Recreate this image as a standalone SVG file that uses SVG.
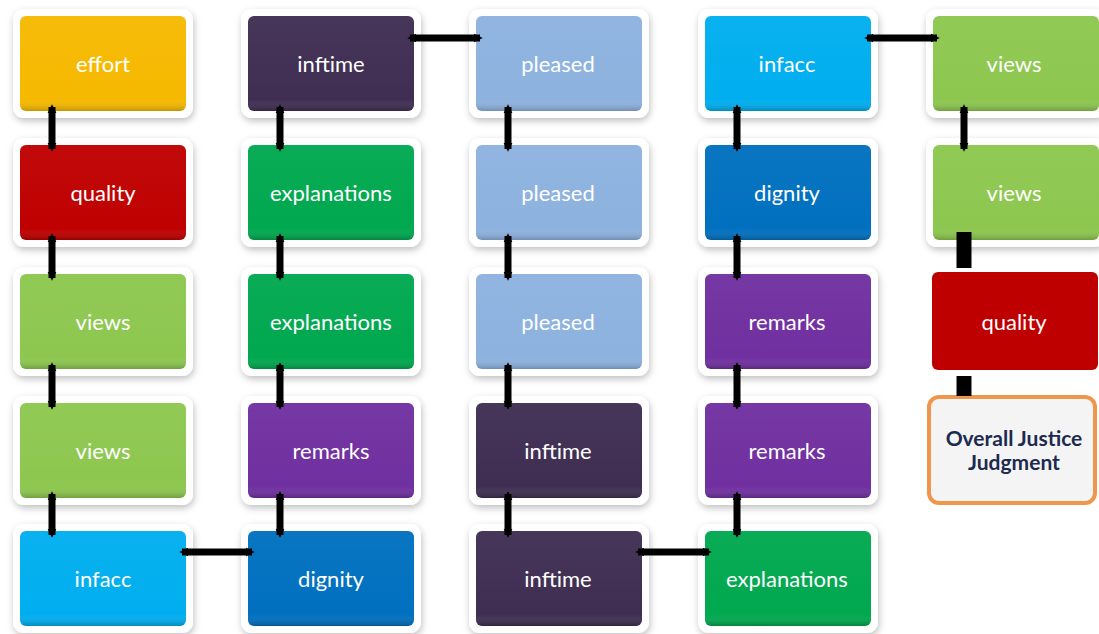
<svg xmlns="http://www.w3.org/2000/svg" width="1099" height="634" viewBox="0 0 1099 634">
  <defs>
    <filter id="sh" x="-20%" y="-20%" width="140%" height="150%">
      <feDropShadow dx="1" dy="3" stdDeviation="3.5" flood-color="#000" flood-opacity="0.25"/>
    </filter>
    <linearGradient id="bev" x1="0" y1="0" x2="0" y2="1">
      <stop offset="0" stop-color="#fff" stop-opacity="0.04"/>
      <stop offset="0.88" stop-color="#fff" stop-opacity="0"/>
      <stop offset="1" stop-color="#000" stop-opacity="0.2"/>
    </linearGradient>
    <marker id="ah" viewBox="0 0 10 10" refX="7" refY="5" markerWidth="1.3" markerHeight="1.4" orient="auto-start-reverse">
      <path d="M0,0 L10,5 L0,10 z" fill="#000"/>
    </marker>
    <style>
      .frame { fill: #fff; filter: url(#sh); }
      .box { stroke: none; }
      .bev { fill: url(#bev); }
      .lbl { font-family: Lato, "Liberation Sans", sans-serif; font-size: 22px; fill: #fff; text-anchor: middle; dominant-baseline: central; }
      .lbl2 { font-family: Lato, "Liberation Sans", sans-serif; font-size: 21px; font-weight: bold; fill: #1c2a4f; text-anchor: middle; dominant-baseline: central; }
      .c { stroke: #000; stroke-width: 7; fill: none; marker-start: url(#ah); marker-end: url(#ah); }
      .ct { stroke: #000; stroke-width: 15; fill: none; }
      .effort { fill: #f6b900; }
      .quality { fill: #bf0000; }
      .views { fill: #8dc74f; }
      .infacc { fill: #00aeef; }
      .inftime { fill: #3f2e52; }
      .expl { fill: #00a84f; }
      .remarks { fill: #7030a0; }
      .dignity { fill: #0070bf; }
      .pleased { fill: #8db2df; }
    </style>
  </defs>
  <rect width="1099" height="634" fill="#fff"/>

  <!-- Column 1 -->
  <g id="n1-effort"><rect class="frame" x="13" y="9" width="180" height="109" rx="11"/><rect class="box effort" x="20" y="16" width="166" height="95" rx="6"/><rect class="bev" x="20" y="16" width="166" height="95" rx="6"/><text class="lbl" x="103" y="63">effort</text></g>
  <g id="n1-quality"><rect class="frame" x="13" y="138" width="180" height="109" rx="11"/><rect class="box quality" x="20" y="145" width="166" height="95" rx="6"/><rect class="bev" x="20" y="145" width="166" height="95" rx="6"/><text class="lbl" x="103" y="192">quality</text></g>
  <g id="n1-views1"><rect class="frame" x="13" y="267" width="180" height="109" rx="11"/><rect class="box views" x="20" y="274" width="166" height="95" rx="6"/><rect class="bev" x="20" y="274" width="166" height="95" rx="6"/><text class="lbl" x="103" y="321">views</text></g>
  <g id="n1-views2"><rect class="frame" x="13" y="396" width="180" height="109" rx="11"/><rect class="box views" x="20" y="403" width="166" height="95" rx="6"/><rect class="bev" x="20" y="403" width="166" height="95" rx="6"/><text class="lbl" x="103" y="450">views</text></g>
  <g id="n1-infacc"><rect class="frame" x="13" y="524" width="180" height="109" rx="11"/><rect class="box infacc" x="20" y="531" width="166" height="95" rx="6"/><rect class="bev" x="20" y="531" width="166" height="95" rx="6"/><text class="lbl" x="103" y="578">infacc</text></g>

  <!-- Column 2 -->
  <g id="n2-inftime"><rect class="frame" x="241" y="9" width="180" height="109" rx="11"/><rect class="box inftime" x="248" y="16" width="166" height="95" rx="6"/><rect class="bev" x="248" y="16" width="166" height="95" rx="6"/><text class="lbl" x="331" y="63">inftime</text></g>
  <g id="n2-expl1"><rect class="frame" x="241" y="138" width="180" height="109" rx="11"/><rect class="box expl" x="248" y="145" width="166" height="95" rx="6"/><rect class="bev" x="248" y="145" width="166" height="95" rx="6"/><text class="lbl" x="331" y="192">explanations</text></g>
  <g id="n2-expl2"><rect class="frame" x="241" y="267" width="180" height="109" rx="11"/><rect class="box expl" x="248" y="274" width="166" height="95" rx="6"/><rect class="bev" x="248" y="274" width="166" height="95" rx="6"/><text class="lbl" x="331" y="321">explanations</text></g>
  <g id="n2-remarks"><rect class="frame" x="241" y="396" width="180" height="109" rx="11"/><rect class="box remarks" x="248" y="403" width="166" height="95" rx="6"/><rect class="bev" x="248" y="403" width="166" height="95" rx="6"/><text class="lbl" x="331" y="450">remarks</text></g>
  <g id="n2-dignity"><rect class="frame" x="241" y="524" width="180" height="109" rx="11"/><rect class="box dignity" x="248" y="531" width="166" height="95" rx="6"/><rect class="bev" x="248" y="531" width="166" height="95" rx="6"/><text class="lbl" x="331" y="578">dignity</text></g>

  <!-- Column 3 -->
  <g id="n3-pleased1"><rect class="frame" x="469" y="9" width="180" height="109" rx="11"/><rect class="box pleased" x="476" y="16" width="166" height="95" rx="6"/><rect class="bev" x="476" y="16" width="166" height="95" rx="6"/><text class="lbl" x="558" y="63">pleased</text></g>
  <g id="n3-pleased2"><rect class="frame" x="469" y="138" width="180" height="109" rx="11"/><rect class="box pleased" x="476" y="145" width="166" height="95" rx="6"/><rect class="bev" x="476" y="145" width="166" height="95" rx="6"/><text class="lbl" x="558" y="192">pleased</text></g>
  <g id="n3-pleased3"><rect class="frame" x="469" y="267" width="180" height="109" rx="11"/><rect class="box pleased" x="476" y="274" width="166" height="95" rx="6"/><rect class="bev" x="476" y="274" width="166" height="95" rx="6"/><text class="lbl" x="558" y="321">pleased</text></g>
  <g id="n3-inftime1"><rect class="frame" x="469" y="396" width="180" height="109" rx="11"/><rect class="box inftime" x="476" y="403" width="166" height="95" rx="6"/><rect class="bev" x="476" y="403" width="166" height="95" rx="6"/><text class="lbl" x="558" y="450">inftime</text></g>
  <g id="n3-inftime2"><rect class="frame" x="469" y="524" width="180" height="109" rx="11"/><rect class="box inftime" x="476" y="531" width="166" height="95" rx="6"/><rect class="bev" x="476" y="531" width="166" height="95" rx="6"/><text class="lbl" x="558" y="578">inftime</text></g>

  <!-- Column 4 -->
  <g id="n4-infacc"><rect class="frame" x="698" y="9" width="180" height="109" rx="11"/><rect class="box infacc" x="705" y="16" width="166" height="95" rx="6"/><rect class="bev" x="705" y="16" width="166" height="95" rx="6"/><text class="lbl" x="787" y="63">infacc</text></g>
  <g id="n4-dignity"><rect class="frame" x="698" y="138" width="180" height="109" rx="11"/><rect class="box dignity" x="705" y="145" width="166" height="95" rx="6"/><rect class="bev" x="705" y="145" width="166" height="95" rx="6"/><text class="lbl" x="787" y="192">dignity</text></g>
  <g id="n4-remarks1"><rect class="frame" x="698" y="267" width="180" height="109" rx="11"/><rect class="box remarks" x="705" y="274" width="166" height="95" rx="6"/><rect class="bev" x="705" y="274" width="166" height="95" rx="6"/><text class="lbl" x="787" y="321">remarks</text></g>
  <g id="n4-remarks2"><rect class="frame" x="698" y="396" width="180" height="109" rx="11"/><rect class="box remarks" x="705" y="403" width="166" height="95" rx="6"/><rect class="bev" x="705" y="403" width="166" height="95" rx="6"/><text class="lbl" x="787" y="450">remarks</text></g>
  <g id="n4-expl"><rect class="frame" x="698" y="524" width="180" height="109" rx="11"/><rect class="box expl" x="705" y="531" width="166" height="95" rx="6"/><rect class="bev" x="705" y="531" width="166" height="95" rx="6"/><text class="lbl" x="787" y="578">explanations</text></g>

  <!-- Column 5 -->
  <g id="n5-views1"><rect class="frame" x="926" y="9" width="180" height="109" rx="11"/><rect class="box views" x="933" y="16" width="166" height="95" rx="6"/><rect class="bev" x="933" y="16" width="166" height="95" rx="6"/><text class="lbl" x="1014" y="63">views</text></g>
  <g id="n5-views2"><rect class="frame" x="926" y="138" width="180" height="109" rx="11"/><rect class="box views" x="933" y="145" width="166" height="95" rx="6"/><rect class="bev" x="933" y="145" width="166" height="95" rx="6"/><text class="lbl" x="1014" y="192">views</text></g>
  <g id="n5-quality"><rect class="box quality" x="932" y="272" width="166" height="98" rx="6"/><text class="lbl" x="1014" y="321">quality</text></g>
  <g id="n5-overall"><rect x="929" y="397" width="166" height="106" rx="10" fill="#f4f4f4" stroke="#f0964a" stroke-width="4"/><text class="lbl2" x="1014" y="437">Overall Justice</text><text class="lbl2" x="1014" y="461">Judgment</text></g>

  <g id="connectors">
    <!-- column 1 -->
    <line class="c" x1="52" y1="107" x2="52" y2="149"/>
    <line class="c" x1="52" y1="236" x2="52" y2="278"/>
    <line class="c" x1="52" y1="365" x2="52" y2="407"/>
    <line class="c" x1="52" y1="494" x2="52" y2="535"/>
    <line class="c" x1="182" y1="552" x2="252" y2="552"/>
    <!-- column 2 -->
    <line class="c" x1="280" y1="107" x2="280" y2="149"/>
    <line class="c" x1="280" y1="236" x2="280" y2="278"/>
    <line class="c" x1="280" y1="365" x2="280" y2="407"/>
    <line class="c" x1="280" y1="494" x2="280" y2="535"/>
    <line class="c" x1="410" y1="38" x2="480" y2="38"/>
    <!-- column 3 -->
    <line class="c" x1="508" y1="107" x2="508" y2="149"/>
    <line class="c" x1="508" y1="236" x2="508" y2="278"/>
    <line class="c" x1="508" y1="365" x2="508" y2="407"/>
    <line class="c" x1="508" y1="494" x2="508" y2="535"/>
    <line class="c" x1="638" y1="552" x2="709" y2="552"/>
    <!-- column 4 -->
    <line class="c" x1="737" y1="107" x2="737" y2="149"/>
    <line class="c" x1="737" y1="236" x2="737" y2="278"/>
    <line class="c" x1="737" y1="365" x2="737" y2="407"/>
    <line class="c" x1="737" y1="494" x2="737" y2="535"/>
    <line class="c" x1="867" y1="38" x2="937" y2="38"/>
    <!-- column 5 -->
    <line class="c" x1="964" y1="107" x2="964" y2="149"/>
    <line class="ct" x1="964" y1="232" x2="964" y2="268"/>
    <line class="ct" x1="964" y1="376" x2="964" y2="396"/>
  </g>
</svg>
